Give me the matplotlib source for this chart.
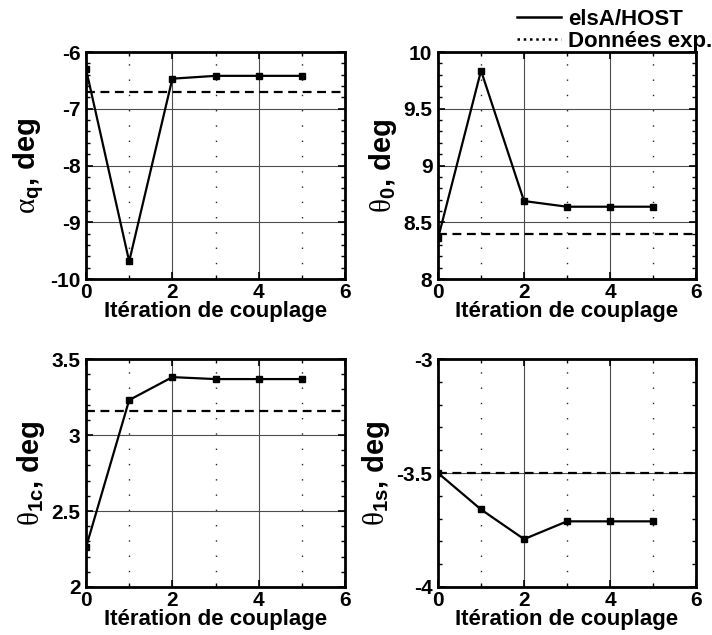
import numpy as np
import matplotlib
matplotlib.use('Agg')
import matplotlib.pyplot as plt
from matplotlib.ticker import MultipleLocator, AutoMinorLocator, FormatStrFormatter
from matplotlib.lines import Line2D

plt.rcParams['font.family'] = 'Liberation Sans'
plt.rcParams['font.weight'] = 'bold'
plt.rcParams['axes.unicode_minus'] = False
plt.rcParams['mathtext.fontset'] = 'custom'
plt.rcParams['mathtext.rm'] = 'Liberation Serif:normal'
plt.rcParams['mathtext.it'] = 'Liberation Serif:normal'
plt.rcParams['mathtext.bf'] = 'Liberation Sans:bold'

# donnees
iterations = [0, 1, 2, 3, 4, 5]
alpha_q = [-6.30, -9.69, -6.47, -6.42, -6.42, -6.42]
theta_0 = [8.358, 9.836, 8.687, 8.637, 8.637, 8.637]
theta_1c = [2.261, 3.23, 3.381, 3.368, 3.368, 3.368]
theta_1s = [-3.50, -3.66, -3.79, -3.712, -3.712, -3.712]
exp_alpha_q = -6.70
exp_theta_0 = 8.40
exp_theta_1c = 3.155
exp_theta_1s = -3.50

labels = [r'$\mathrm{\alpha}_{\mathbf{q}}$, deg', r'$\mathrm{\theta}_{\mathbf{0}}$, deg',
          r'$\mathrm{\theta}_{\mathbf{1c}}$, deg', r'$\mathrm{\theta}_{\mathbf{1s}}$, deg']
series = [alpha_q, theta_0, theta_1c, theta_1s]
exps = [exp_alpha_q, exp_theta_0, exp_theta_1c, exp_theta_1s]
ylims = [(-10, -6), (8, 10), (2, 3.5), (-4, -3)]
ymaj = [1, 0.5, 0.5, 0.5]

fig = plt.figure(figsize=(7.12, 6.35), dpi=100)
positions = [[0.1208, 0.5606, 0.3638, 0.3575],
             [0.6152, 0.5606, 0.3624, 0.3575],
             [0.1208, 0.0756, 0.3638, 0.359],
             [0.6152, 0.0756, 0.3624, 0.359]]

for i in range(4):
    ax = fig.add_axes(positions[i])
    ax.set_xlim(0, 6)
    ax.set_ylim(ylims[i])
    ax.xaxis.set_major_locator(MultipleLocator(2))
    ax.xaxis.set_minor_locator(MultipleLocator(1))
    ax.yaxis.set_major_locator(MultipleLocator(ymaj[i]))
    ax.yaxis.set_minor_locator(AutoMinorLocator(5))
    ax.yaxis.set_major_formatter(FormatStrFormatter('%g'))
    ax.grid(which='major', color='0.3', lw=0.8, ls='-')
    ax.grid(which='minor', axis='x', color='0.15', lw=1.0, ls=(0, (1, 10)))
    ax.set_axisbelow(True)
    ax.tick_params(which='both', direction='in', top=True, right=True, labelsize=15)
    ax.tick_params(axis='x', pad=3)
    ax.tick_params(axis='y', pad=4)
    ax.tick_params(which='major', length=5, width=1.2)
    ax.tick_params(which='minor', length=3, width=1.0)
    for s in ax.spines.values():
        s.set_linewidth(2)
    ax.axhline(exps[i], color='black', lw=1.6, dashes=(4, 2.5))
    ax.plot(iterations, series[i], color='black', lw=1.6, marker='s', markersize=5)
    ax.set_xlabel('Itération de couplage', fontsize=16, fontweight='bold', labelpad=-1)
    ax.set_ylabel(labels[i], fontsize=21, fontweight='bold', labelpad=3)

handles = [Line2D([], [], color='black', lw=1.8),
           Line2D([], [], color='black', lw=1.8, ls=(0, (1, 1.5)))]
fig.legend(handles, ['elsA/HOST', 'Données exp.'], loc='upper right',
           bbox_to_anchor=(1.028, 1.018), frameon=False, fontsize=16,
           handlelength=2.0, handletextpad=0.3, labelspacing=0.05)

fig.savefig('out.png', dpi=100)
